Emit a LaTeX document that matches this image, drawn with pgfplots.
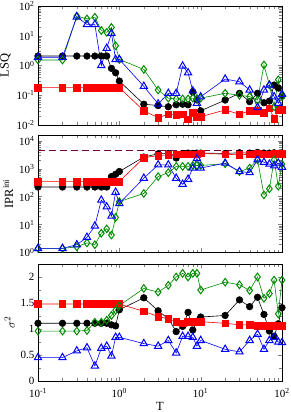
\documentclass[border=0pt]{standalone}
\usepackage{fontspec}
\setmainfont{Liberation Serif}
\usepackage{pgfplots}
\pgfplotsset{compat=1.18}
\usepackage{pgfplotstable}
\definecolor{dgreen}{RGB}{0,140,0}
\definecolor{maroonp}{RGB}{120,0,60}

\pgfplotstableread{
T black red green blue
0.1 2.08 0.18 1.53 1.9
0.2 2.08 0.18 1.53 1.9
0.3 2.08 0.18 46 43
0.4 2.08 0.18 37 24
0.5 2.08 0.18 42 24
0.6 2.08 0.18 15 1.0
0.7 2.08 0.18 13 3.8
0.8 0.8 0.18 19 12
0.9 0.57 0.18 4.6 1.6
1 0.30 0.18 1.6 1.6
2 0.05 0.030 0.74 0.2
3 0.045 0.0176 0.15 0.051
4 0.041 0.023 0.08 0.116
5 0.048 0.0217 0.075 0.116
6 0.05 0.023 0.075 0.96
7 0.048 0.0156 0.075 0.57
8 0.13 0.026 0.08 0.14
9 0.07 0.019 0.078 0.054
10 0.030 0.019 0.08 0.089
20 0.069 0.032 0.116 0.35
30 0.116 0.023 0.10 0.285
40 0.061 0.030 0.09 0.15
50 0.116 0.030 0.069 0.039
60 0.056 0.026 1.04 0.15
70 0.064 0.036 0.22 0.22
80 0.22 0.0163 0.041 0.089
90 0.175 0.032 0.33 0.054
100 0.094 0.032 0.089 0.108
}\lsq

\pgfplotstableread{
T black red green blue
0.1 220 345 1.4 1.4
0.2 220 345 1.4 1.4
0.3 220 345 1.6 1.9
0.4 220 345 2.2 3.5
0.5 220 345 1.9 8.9
0.6 220 345 4.9 75
0.7 220 345 7 43
0.8 520 345 4.2 20
0.9 630 345 18 144
1 790 345 66 57
2 2600 2450 130 456
3 3400 2950 520 1370
4 3500 3100 720 1370
5 2400 3300 1200 456
6 3500 3300 1200 277
7 3600 3300 1200 420
8 3500 3300 1300 1050
9 3600 3300 1300 2300
10 3600 3500 1300 1050
20 3500 3300 1500 1580
30 3700 3100 790 790
40 3600 3300 1050 720
50 3800 3400 2070 2070
60 3600 3300 115 1700
70 3600 3300 190 1450
80 3700 3400 2070 1270
90 3500 3300 235 1580
100 3600 3400 1450 1130
}\ipr

\pgfplotstableread{
T black red green blue
0.1 1.11 1.48 0.96 0.45
0.2 1.11 1.48 0.96 0.45
0.3 1.11 1.48 0.96 0.58
0.4 1.11 1.48 0.97 0.64
0.5 1.11 1.48 1.13 0.29
0.6 1.11 1.48 1.13 0.63
0.7 1.11 1.48 1.17 0.67
0.8 1.08 1.48 1.26 0.48
0.9 1.06 1.48 1.36 0.84
1 1.37 1.48 1.45 0.84
2 1.6 1.34 1.78 0.72
3 1.35 1.24 1.71 0.67
4 1.2 1.20 1.84 0.78
5 0.95 1.14 2.0 0.54
6 1.05 1.11 2.07 0.86
7 1.32 1.14 2.0 0.86
8 0.98 1.14 2.07 0.84
9 1.15 1.14 2.07 0.67
10 1.23 1.14 1.75 0.78
20 1.26 1.11 1.9 0.61
30 1.56 1.08 1.85 0.56
40 1.43 1.08 1.74 0.78
50 1.61 1.06 2.0 0.9
60 1.28 1.06 1.59 0.61
70 0.96 1.06 1.68 0.78
80 0.86 1.06 1.94 0.84
90 1.1 1.06 1.29 0.75
100 1.41 1.06 1.94 0.74
}\sig

\pgfplotsset{
  log number format basis/.code 2 args={#1\textsuperscript{\pgfmathprintnumber{#2}}},
  every axis/.append style={
    scale only axis, width=244pt,
    clip=false, tick align=inside, axis line style={line width=0.8pt},
    font=\fontsize{11}{13}\selectfont,
    /pgf/number format/assume math mode=true,
    ylabel style={font=\fontsize{12.5}{14}\selectfont, yshift=-1pt},
    xlabel style={font=\fontsize{12.5}{14}\selectfont, yshift=2pt},
    xticklabel style={yshift=-3.5pt},
  },
  sblack/.style={black, line width=0.6pt, mark=*, mark size=3.3pt},
  sred/.style={red, line width=0.6pt, mark=square*, mark size=3.3pt},
  sgreen/.style={dgreen, line width=0.6pt, mark=diamond, mark size=3.8pt, mark options={line width=1pt}},
  sblue/.style={blue, line width=0.6pt, mark=triangle, mark size=4.2pt, mark options={line width=1pt}},
}

\begin{document}
\begin{tikzpicture}
\useasboundingbox (-38pt,-31pt) rectangle (253pt,381pt);

\begin{axis}[at={(0pt,256pt)}, anchor=south west, height=119pt,
  xmode=log, xmin=0.1, xmax=100,
  ymode=log, ymin=0.01, ymax=100, xticklabels={}, ylabel={LSQ}]
\addplot[sblack] table[x=T,y=black] {\lsq};
\addplot[sred] table[x=T,y=red] {\lsq};
\addplot[sgreen] table[x=T,y=green] {\lsq};
\addplot[sblue] table[x=T,y=blue] {\lsq};
\end{axis}

\begin{axis}[at={(0pt,128.5pt)}, anchor=south west, height=117.5pt,
  xmode=log, xmin=0.1, xmax=100,
  ymode=log, ymin=1, ymax=16000, xticklabels={}, ylabel={IPR\textsuperscript{ini}}]
\addplot[maroonp, line width=1pt, dash pattern=on 7pt off 4pt] coordinates {(0.1,4600) (100,4600)};
\addplot[sblack] table[x=T,y=black] {\ipr};
\addplot[sred] table[x=T,y=red] {\ipr};
\addplot[sgreen] table[x=T,y=green] {\ipr};
\addplot[sblue] table[x=T,y=blue] {\ipr};
\end{axis}

\begin{axis}[at={(0pt,0pt)}, anchor=south west, height=117pt,
  xmode=log, xmin=0.1, xmax=100,
  ymin=0, ymax=2.25, ytick={0,0.5,1,1.5,2}, minor ytick={0.25,0.75,1.25,1.75},
  ylabel={$\sigma^2$}, xlabel={T}]
\addplot[sblack] table[x=T,y=black] {\sig};
\addplot[sred] table[x=T,y=red] {\sig};
\addplot[sgreen] table[x=T,y=green] {\sig};
\addplot[sblue] table[x=T,y=blue] {\sig};
\end{axis}
\end{tikzpicture}
\end{document}
